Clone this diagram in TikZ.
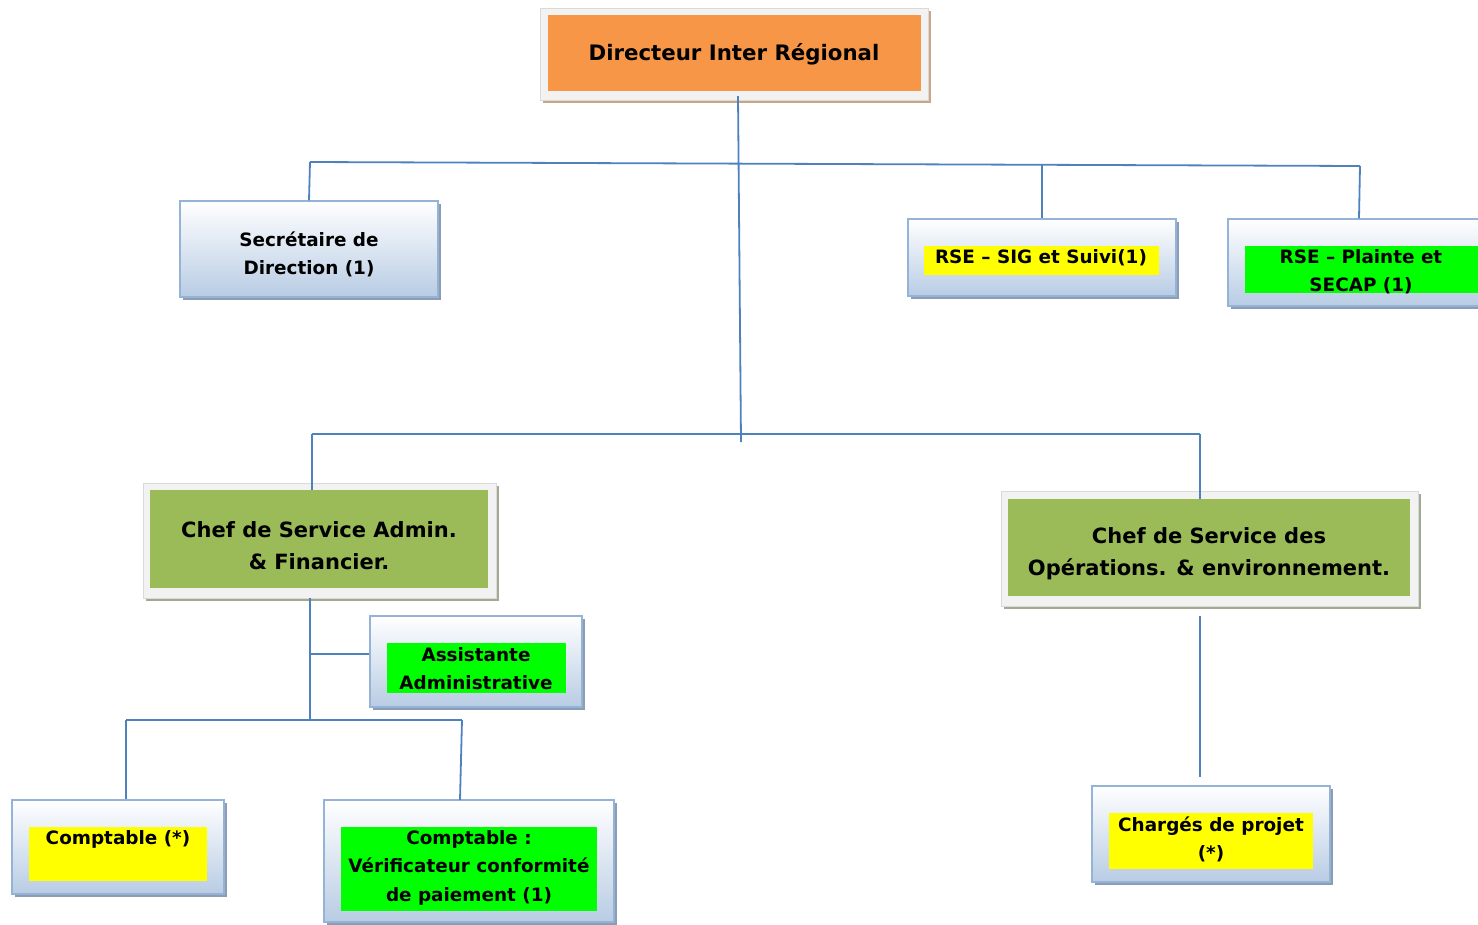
\documentclass[tikz,border=0pt]{standalone}
\usepackage{fontspec}
\setmainfont{DejaVu Sans}
\usetikzlibrary{shadows}
\definecolor{linec}{HTML}{4F81BD}
\definecolor{bordc}{HTML}{95B3D7}
\definecolor{gbot}{HTML}{B8CCE4}
\definecolor{shb}{HTML}{8A9DB5}
\definecolor{orng}{HTML}{F79646}
\definecolor{shor}{HTML}{C9A687}
\definecolor{grn}{HTML}{9BBB59}
\definecolor{shgr}{HTML}{A3AA92}
\definecolor{frame}{HTML}{F2F2F2}
\definecolor{hlyel}{HTML}{FFFF00}
\definecolor{hlgrn}{HTML}{00FF00}
\begin{document}
\begin{tikzpicture}[x=1pt,y=-1pt,
  conn/.style={draw=linec, line width=1.8pt},
  gbox/.style={draw=bordc, line width=1.5pt, top color=white, bottom color=gbot,
    general shadow={fill=shb, shadow xshift=3pt, shadow yshift=-3pt}, inner sep=0pt},
  framebox/.style={fill=frame, draw=frame!90!black, line width=0.3pt, inner sep=0pt},
  fillbox/.style={inner sep=0pt},
  hl/.style={inner sep=0pt},
  small/.style={font=\bfseries\fontsize{18.4}{28}\selectfont, align=center, inner sep=0pt},
  big/.style={font=\bfseries\fontsize{21}{32}\selectfont, align=center, inner sep=0pt},
]
\useasboundingbox (0,0) rectangle (1478,924);

% Director
\node[framebox, general shadow={fill=shor, shadow xshift=3pt, shadow yshift=-3pt},
  minimum width=388pt, minimum height=92pt] (dirF) at (734,54) {};
\node[fillbox, fill=orng, minimum width=373pt, minimum height=76pt] (dirI) at (734.5,53) {};
\node[font=\bfseries\fontsize{21.3}{26}\selectfont, inner sep=0pt] (dirT) at (734,54) {Directeur Inter Régional};

% Secretary
\node[gbox, minimum width=258pt, minimum height=96pt] (sec) at (309,249) {};
\node[small] (secT) at (309,254) {Secrétaire de\\Direction (1)};

% RSE SIG
\node[gbox, minimum width=268pt, minimum height=77pt] (sig) at (1042,257.5) {};
\node[hl, fill=hlyel, minimum width=235pt, minimum height=29pt] (sigH) at (1041.5,260.5) {};
\node[small] (sigT) at (1041,258) {RSE – SIG et Suivi(1)};

% RSE Plainte
\node[gbox, minimum width=262pt, minimum height=87pt] (pla) at (1359,262.5) {};
\node[hl, fill=hlgrn, minimum width=245pt, minimum height=47pt] (plaH) at (1367.5,269.5) {};
\node[small] (plaT) at (1361,272) {RSE – Plainte et\\SECAP (1)};

% Chef Admin
\node[framebox, general shadow={fill=shgr, shadow xshift=3pt, shadow yshift=-3pt},
  minimum width=353pt, minimum height=115pt] (caF) at (319.5,540.5) {};
\node[fillbox, fill=grn, minimum width=338pt, minimum height=98pt] (caI) at (319,539) {};
\node[big] (caT) at (319,546) {Chef de Service Admin.\\\& Financier.};

% Chef Operations
\node[framebox, general shadow={fill=shgr, shadow xshift=3pt, shadow yshift=-3pt},
  minimum width=417pt, minimum height=115pt] (coF) at (1209.5,548.5) {};
\node[fillbox, fill=grn, minimum width=402pt, minimum height=97pt] (coI) at (1209,547.5) {};
\node[big] (coT) at (1209,554) {Chef de Service des\\Opérations. \& environnement.};

% Assistante
\node[gbox, minimum width=212pt, minimum height=91pt] (ass) at (476,661.5) {};
\node[hl, fill=hlgrn, minimum width=179pt, minimum height=50pt] (assH) at (476.5,668) {};
\node[small] (assT) at (476,669) {Assistante\\Administrative};

% Comptable
\node[gbox, minimum width=212pt, minimum height=94pt] (cpt) at (118,847) {};
\node[hl, fill=hlyel, minimum width=178pt, minimum height=54pt] (cptH) at (118,854) {};
\node[small] (cptT) at (118,839) {Comptable (*)};

% Verificateur
\node[gbox, minimum width=290pt, minimum height=122pt] (ver) at (469,861) {};
\node[hl, fill=hlgrn, minimum width=256pt, minimum height=84pt] (verH) at (469,869) {};
\node[font=\bfseries\fontsize{18.4}{28.5}\selectfont, align=center, inner sep=0pt] (verT) at (469,867.5) {Comptable :\\Vérificateur conformité\\de paiement (1)};

% Charges
\node[gbox, minimum width=238pt, minimum height=96pt] (chg) at (1211,834) {};
\node[hl, fill=hlyel, minimum width=204pt, minimum height=56pt] (chgH) at (1211,841) {};
\node[small] (chgT) at (1211,839) {Chargés de projet\\(*)};

% junction coordinates
\coordinate (dtop) at (738,96);
\coordinate (dbot) at (741,442);
\coordinate (b1l) at (310,162);
\coordinate (b1m) at (1042,165);
\coordinate (b1r) at (1360,166);
\coordinate (b2l) at (312,434);
\coordinate (b2r) at (1200,434);
\coordinate (catop) at (310,598);
\coordinate (cabot) at (310,720);
\coordinate (cass) at (310,654);
\coordinate (b3l) at (126,720);
\coordinate (b3r) at (462,720);
\coordinate (cotop) at (1200,616);
\coordinate (cobot) at (1200,777);

% connectors
\draw[conn] (dtop) -- (dbot);
\draw[conn] (b1l) -- (b1r);
\draw[conn] (b1l) -- (sec.north);
\draw[conn] (b1m) -- (sig.north);
\draw[conn] (b1r) -- (pla.north);
\draw[conn] (b2l) -- (b2r);
\draw[conn] (b2l) -- (b2l |- caI.north);
\draw[conn] (b2r) -- (b2r |- coI.north);
\draw[conn] (catop) -- (cabot);
\draw[conn] (cass) -- (cass -| ass.west);
\draw[conn] (b3l) -- (b3r);
\draw[conn] (b3l) -- (b3l |- cpt.north);
\draw[conn] (b3r) -- (460,800);
\draw[conn] (cotop) -- (cobot);
\end{tikzpicture}
\end{document}
